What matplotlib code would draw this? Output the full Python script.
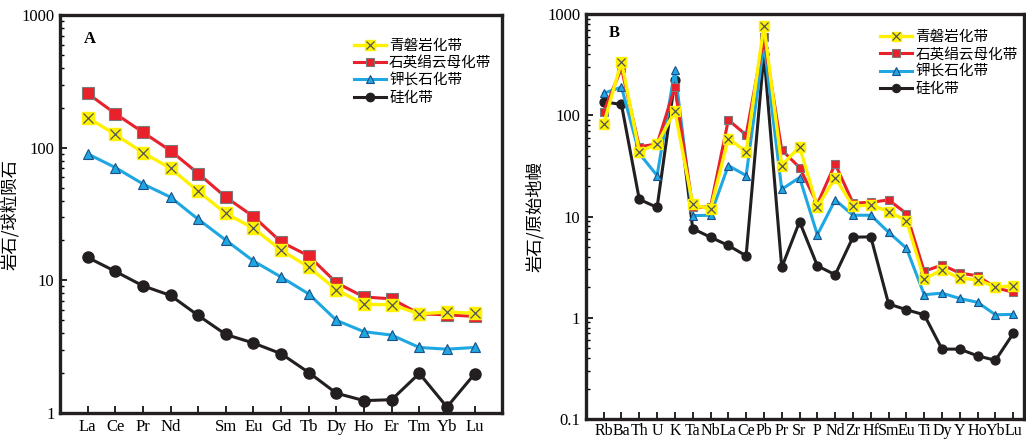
import numpy as np
import matplotlib
matplotlib.use("Agg")
import matplotlib.pyplot as plt
from matplotlib.ticker import LogLocator, NullFormatter
from matplotlib.legend_handler import HandlerTuple

plt.rcParams['font.family'] = ['Liberation Serif', 'Noto Sans CJK SC']

# ---- data ----
series_names = ['青磐岩化带', '石英绢云母化带', '钾长石化带', '硅化带']

ree_labels = ['La', 'Ce', 'Pr', 'Nd', '', 'Sm', 'Eu', 'Gd', 'Tb', 'Dy', 'Ho', 'Er', 'Tm', 'Yb', 'Lu']
ree_qingpan = [169, 126, 92, 70, 47, 32, 24.7, 16.9, 12.6, 8.5, 6.6, 6.55, 5.6, 5.77, 5.66]
ree_sericite = [257, 181, 131, 95, 64, 42.4, 30.3, 19.5, 15.3, 9.6, 7.5, 7.26, 5.6, 5.5, 5.35]
ree_kfeld = [90, 71, 53.4, 42.4, 28.9, 20.1, 14.0, 10.6, 7.9, 5.0, 4.1, 3.87, 3.12, 3.03, 3.12]
ree_silica = [14.9, 11.7, 9.1, 7.7, 5.44, 3.91, 3.37, 2.80, 2.02, 1.41, 1.24, 1.26, 1.99, 1.11, 1.97]

spider_labels = ['Rb', 'Ba', 'Th', 'U', 'K', 'Ta', 'Nb', 'La', 'Ce', 'Pb', 'Pr', 'Sr',
                 'P', 'Nd', 'Zr', 'Hf', 'Sm', 'Eu', 'Ti', 'Dy', 'Y', 'Ho', 'Yb', 'Lu']
sp_qingpan = [82, 339, 43.8, 52, 110, 13.2, 11.8, 59, 43.8, 770, 31.9, 49, 12.4, 24.3,
              12.6, 13.0, 11.2, 9.1, 2.41, 2.98, 2.46, 2.37, 2.01, 2.07]
sp_sericite = [109, 291, 49, 52, 189, 12.4, 12.4, 90, 64, 590, 45.5, 30.5, 13.3, 33.1,
               13.6, 13.8, 14.6, 10.7, 2.87, 3.33, 2.76, 2.60, 1.98, 1.79]
sp_kfeld = [165, 190, 42, 25.4, 280, 10.2, 10.3, 31.9, 25.4, 510, 18.6, 24.3, 6.6, 14.6,
            10.3, 10.3, 7.0, 4.87, 1.69, 1.75, 1.55, 1.42, 1.07, 1.08]
sp_silica = [136, 128, 14.8, 12.3, 223, 7.6, 6.25, 5.18, 4.09, 405, 3.14, 8.9, 3.26, 2.66,
             6.25, 6.3, 1.37, 1.20, 1.07, 0.49, 0.49, 0.42, 0.38, 0.70]

YEL = '#fff200'
RED = '#e8212b'
BLU = '#1ea7e1'
BLK = '#231f20'


def draw(ax, x, data, big):
    yq, ys, yk, yb = data
    ms = 1.0 if big else 0.8
    h_b, = ax.plot(x, yb, '-o', color=BLK, lw=2.2, ms=8 * ms, mec=BLK, zorder=2)
    h_k, = ax.plot(x, yk, '-^', color=BLU, lw=2.2, ms=7 * ms, mec='#1a4f8a', mew=0.8, zorder=3)
    h_s, = ax.plot(x, ys, '-s', color=RED, lw=2.2, ms=8 * ms, mec='#7a7a7a', mew=0.8, zorder=4)
    h_q, = ax.plot(x, yq, '-s', color=YEL, lw=2.4, ms=9 * ms, mec=YEL, zorder=5)
    h_qx, = ax.plot(x, yq, 'x', color='#555555', ms=7 * ms, mew=0.9, zorder=6)
    return [(h_q, h_qx), h_s, h_k, h_b]


def style(ax):
    ax.set_yscale('log')
    for s in ax.spines.values():
        s.set_linewidth(2.4)
        s.set_color(BLK)
    ax.tick_params(axis='both', which='major', direction='in', length=5, width=1.2,
                   labelsize=12, pad=4)
    ax.tick_params(axis='y', which='minor', direction='in', length=3, width=1.0)
    ax.yaxis.set_major_locator(LogLocator(base=10))
    ax.yaxis.set_minor_locator(LogLocator(base=10, subs=np.arange(2, 10)))
    ax.yaxis.set_minor_formatter(NullFormatter())
    ax.yaxis.set_major_formatter(plt.FuncFormatter(lambda v, p: f'{v:g}'))


def add_legend(ax, handles, anchor, mscale):
    ax.legend(handles, series_names, loc='upper left', bbox_to_anchor=anchor,
              frameon=False, handlelength=2.2, handletextpad=0.2, labelspacing=0.22,
              borderaxespad=0, borderpad=0, markerscale=mscale,
              handler_map={tuple: HandlerTuple(ndivide=1)},
              prop={'family': ['Noto Sans CJK SC'], 'size': 10.5})


fig = plt.figure(figsize=(10.26, 4.43), dpi=100)

# ---- A: REE ----
axA = fig.add_axes([0.0585, 0.0677, 0.431, 0.898])
xA = np.arange(len(ree_labels))
hA = draw(axA, xA, [ree_qingpan, ree_sericite, ree_kfeld, ree_silica], True)
style(axA)
axA.set_xlim(-1, 15)
axA.set_ylim(1, 1000)
axA.set_xticks(xA)
axA.set_xticklabels(ree_labels)
axA.set_ylabel('岩石/球粒陨石', family=['Noto Sans CJK SC'], fontsize=12.5, labelpad=2)
axA.text(0.055, 0.94, 'A', transform=axA.transAxes, fontsize=12, fontweight='bold',
         va='center', ha='left')
add_legend(axA, hA, (0.665, 0.94), 0.75)

# ---- B: spider ----
axB = fig.add_axes([0.571, 0.0542, 0.427, 0.914])
xB = np.arange(len(spider_labels))
hB = draw(axB, xB, [sp_qingpan, sp_sericite, sp_kfeld, sp_silica], False)
style(axB)
axB.set_xlim(-1, 23.6)
axB.set_ylim(0.1, 1000)
axB.set_xticks(xB)
axB.set_xticklabels(spider_labels)
axB.tick_params(axis='x', pad=3, labelsize=11.5)
axB.set_ylabel('岩石/原始地幔', family=['Noto Sans CJK SC'], fontsize=12.5, labelpad=2)
axB.text(0.052, 0.953, 'B', transform=axB.transAxes, fontsize=12, fontweight='bold',
         va='center', ha='left')
add_legend(axB, hB, (0.672, 0.96), 0.9)

fig.savefig('out.png', dpi=100)
